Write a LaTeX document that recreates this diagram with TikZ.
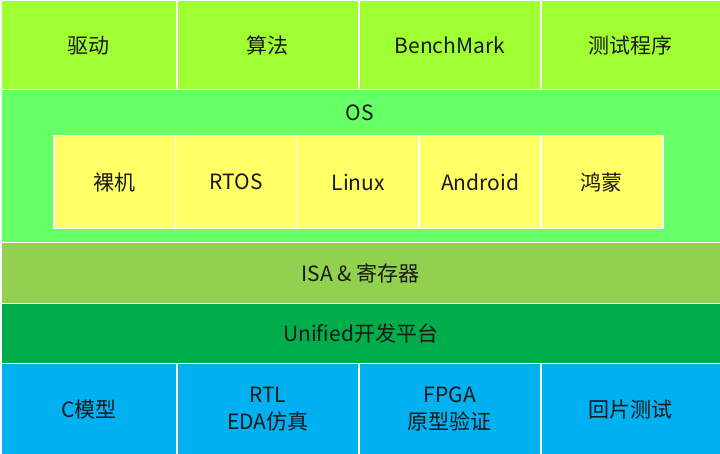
\documentclass[tikz,border=0pt]{standalone}
\usepackage{fontspec}
\setmainfont{Noto Sans CJK SC}
\usepackage{tikz}
\usetikzlibrary{positioning}
\definecolor{appgreen}{HTML}{A0FF33}
\definecolor{osgreen}{HTML}{66FF66}
\definecolor{osyellow}{HTML}{FFFF66}
\definecolor{isagreen}{HTML}{92D050}
\definecolor{platgreen}{HTML}{00AD4B}
\definecolor{flowblue}{HTML}{00B0F0}

\begin{document}
\begin{tikzpicture}[x=1pt, y=1pt]
  \tikzset{cell/.style={draw=white, line width=1.5pt, inner sep=0pt, align=center,
      anchor=north west, font=\fontsize{21}{27}\selectfont, text=black!90},
    appcell/.style={cell, fill=appgreen, minimum height=89pt},
    oscell/.style={cell, fill=osyellow, minimum width=121.8pt, minimum height=93pt},
    flowcell/.style={cell, fill=flowblue, minimum height=91pt},
    band/.style={cell, minimum width=720pt}}
  \useasboundingbox (0,0) rectangle (720,454);
  % top row
  \node[appcell, minimum width=176pt] (drv) at (0,454) {驱动};
  \node[appcell, minimum width=182pt] (alg) at (176,454) {算法};
  \node[appcell, minimum width=182pt] (bench) at (358,454) {BenchMark};
  \node[appcell, minimum width=180pt] (test) at (540,454) {测试程序};
  % OS layer
  \node[band, fill=osgreen, minimum height=153pt] (os) at (0,365) {};
  \node[font=\fontsize{21}{27}\selectfont, text=black!90] (oslabel) at (360,341) {OS};
  \node[oscell] (bare) at (53,319) {裸机};
  \node[oscell] (rtos) at (174.8,319) {RTOS};
  \node[oscell] (linux) at (296.6,319) {Linux};
  \node[oscell] (android) at (418.4,319) {Android};
  \node[oscell] (harmony) at (540.2,319) {鸿蒙};
  % ISA and platform
  \node[band, fill=isagreen, minimum height=61pt] (isa) at (0,212) {ISA \& 寄存器};
  \node[band, fill=platgreen, minimum height=60pt] (unified) at (0,151) {Unified开发平台};
  % bottom row
  \node[flowcell, minimum width=176pt] (cmodel) at (0,91) {C模型};
  \node[flowcell, minimum width=182pt] (rtl) at (176,91) {RTL\\EDA仿真};
  \node[flowcell, minimum width=182pt] (fpga) at (358,91) {FPGA\\原型验证};
  \node[flowcell, minimum width=180pt] (chip) at (540,91) {回片测试};
\end{tikzpicture}
\end{document}
